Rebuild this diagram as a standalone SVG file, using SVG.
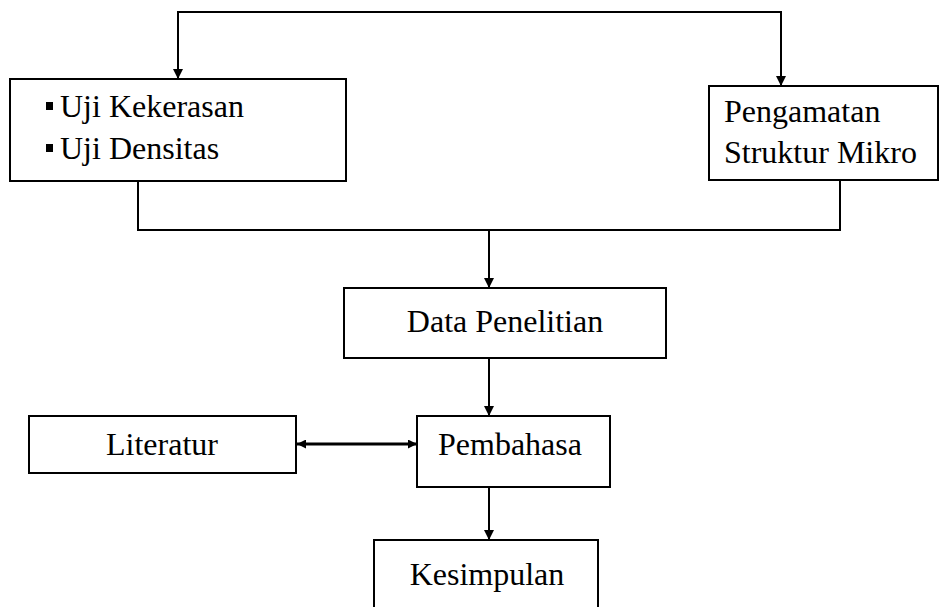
<svg xmlns="http://www.w3.org/2000/svg" width="939" height="607" viewBox="0 0 939 607">
<style>
.box{fill:#fff;stroke:#000;stroke-width:2}
.ln{fill:none;stroke:#000;stroke-width:2}
.t{font-family:"Liberation Serif","Times New Roman",serif;font-size:32px;fill:#000}
</style>
<defs>
<marker id="ah" viewBox="0 0 10 10" refX="10" refY="5" markerWidth="10" markerHeight="13" markerUnits="userSpaceOnUse" orient="auto">
<path d="M0,0 L10,5 L0,10 z" fill="#000"/>
</marker>
<marker id="ah2" viewBox="0 0 10 10" refX="10" refY="5" markerWidth="9" markerHeight="9" markerUnits="userSpaceOnUse" orient="auto-start-reverse">
<path d="M0,0 L10,5 L0,10 z" fill="#000"/>
</marker>
</defs>
<g id="connectors">
<polyline class="ln" points="178,79 178,12 781,12 781,86" marker-end="url(#ah)" />
<line class="ln" x1="178" y1="12" x2="178" y2="79" marker-end="url(#ah)"/>
<polyline class="ln" points="138,181 138,230 840,230 840,180"/>
<line class="ln" x1="489" y1="230" x2="489" y2="288" marker-end="url(#ah)"/>
<line class="ln" x1="489" y1="358" x2="489" y2="416" marker-end="url(#ah)"/>
<line class="ln" x1="489" y1="487" x2="489" y2="540" marker-end="url(#ah)"/>
<line x1="297" y1="444" x2="417" y2="444" stroke="#000" stroke-width="3" marker-start="url(#ah2)" marker-end="url(#ah2)"/>
</g>
<g id="node-uji">
<rect class="box" x="10" y="79" width="336" height="102"/>
<rect x="46" y="102" width="7" height="8" fill="#000"/>
<rect x="46" y="144" width="7" height="8" fill="#000"/>
<text class="t" x="60" y="117">Uji Kekerasan</text>
<text class="t" x="60" y="159">Uji Densitas</text>
</g>
<g id="node-pengamatan">
<rect class="box" x="709" y="86" width="229" height="94"/>
<text class="t" x="724" y="122">Pengamatan</text>
<text class="t" x="724" y="163">Struktur Mikro</text>
</g>
<g id="node-data">
<rect class="box" x="344" y="288" width="322" height="70"/>
<text class="t" x="505" y="332" text-anchor="middle">Data Penelitian</text>
</g>
<g id="node-literatur">
<rect class="box" x="29" y="416" width="267" height="57"/>
<text class="t" x="162" y="455" text-anchor="middle">Literatur</text>
</g>
<g id="node-pembahasa">
<rect class="box" x="417" y="416" width="193" height="71"/>
<text class="t" x="510" y="455" text-anchor="middle">Pembahasa</text>
</g>
<g id="node-kesimpulan">
<rect class="box" x="374" y="540" width="224" height="80"/>
<text class="t" x="487" y="585" text-anchor="middle">Kesimpulan</text>
</g>
</svg>
